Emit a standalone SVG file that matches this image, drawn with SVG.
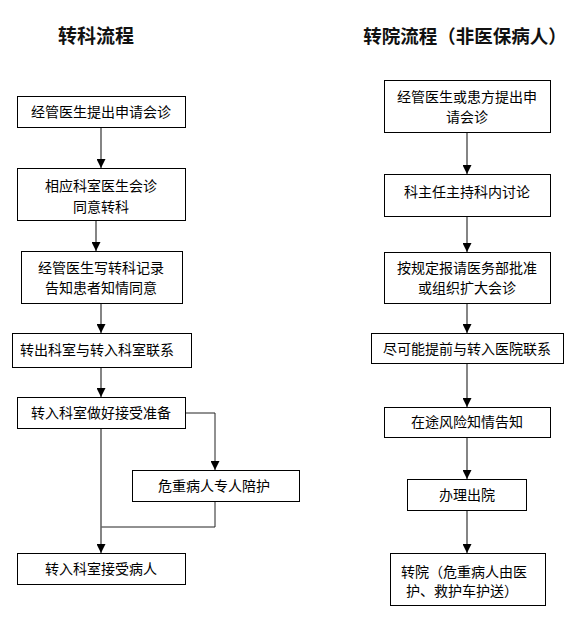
<svg xmlns="http://www.w3.org/2000/svg" width="576" height="622" viewBox="0 0 576 622">
<style>
.bg{fill:#fff}
.box{fill:#fff;stroke:#000;stroke-width:1}
.t{font-family:"Noto Sans CJK SC","Noto Sans",sans-serif;font-size:14px;fill:#000;text-anchor:middle}
.h{font-family:"Noto Sans CJK SC","Noto Sans",sans-serif;font-size:19px;font-weight:bold;fill:#111;text-anchor:middle}
.c{fill:none;stroke:#666;stroke-width:1.6}
.c2{fill:none;stroke:#222;stroke-width:1}
</style>
<defs>
<marker id="ah" markerUnits="userSpaceOnUse" markerWidth="9" markerHeight="9" refX="9" refY="4.5" orient="auto">
<path d="M0,0 L9,4.5 L0,9 z" fill="#000"/>
</marker>
</defs>
<rect class="bg" x="0" y="0" width="576" height="622"/>
<text class="h" x="96" y="43">转科流程</text>
<text class="h" x="465" y="43" style="font-size:18.5px">转院流程（非医保病人）</text>

<g id="connectors">
<line class="c" x1="101" y1="127" x2="101" y2="168" marker-end="url(#ah)"/>
<line class="c" x1="96" y1="220" x2="96" y2="251" marker-end="url(#ah)"/>
<line class="c" x1="101" y1="303" x2="101" y2="333" marker-end="url(#ah)"/>
<line class="c" x1="101" y1="367" x2="101" y2="397" marker-end="url(#ah)"/>
<polyline class="c2" points="186,413 215,413 215,470" marker-end="url(#ah)"/>
<polyline class="c2" points="215,501 215,527 101,527"/>
<line class="c" x1="101" y1="428" x2="101" y2="553" marker-end="url(#ah)"/>

<line class="c" x1="467" y1="132" x2="467" y2="174" marker-end="url(#ah)"/>
<line class="c" x1="467" y1="216" x2="467" y2="252" marker-end="url(#ah)"/>
<line class="c" x1="467" y1="303" x2="467" y2="333" marker-end="url(#ah)"/>
<line class="c" x1="467" y1="363" x2="467" y2="407" marker-end="url(#ah)"/>
<line class="c" x1="467" y1="437" x2="467" y2="479" marker-end="url(#ah)"/>
<line class="c" x1="467" y1="510" x2="467" y2="553" marker-end="url(#ah)"/>
</g>

<g id="L1"><rect class="box" x="17.5" y="96.5" width="168" height="31"/><text class="t" x="101" y="117">经管医生提出申请会诊</text></g>
<g id="L2"><rect class="box" x="17.5" y="168.5" width="168" height="52"/><text class="t" x="101" y="191">相应科室医生会诊</text><text class="t" x="101" y="212">同意转科</text></g>
<g id="L3"><rect class="box" x="21.5" y="251.5" width="161" height="52"/><text class="t" x="101" y="273">经管医生写转科记录</text><text class="t" x="101" y="293">告知患者知情同意</text></g>
<g id="L4"><rect class="box" x="12.5" y="333.5" width="179" height="34"/><text class="t" x="97" y="355">转出科室与转入科室联系</text></g>
<g id="L5"><rect class="box" x="17.5" y="397.5" width="168" height="31"/><text class="t" x="101" y="418">转入科室做好接受准备</text></g>
<g id="L6"><rect class="box" x="132.5" y="470.5" width="167" height="31"/><text class="t" x="214" y="491">危重病人专人陪护</text></g>
<g id="L7"><rect class="box" x="17.5" y="553.5" width="168" height="31"/><text class="t" x="101" y="574">转入科室接受病人</text></g>

<g id="R1"><rect class="box" x="384.5" y="80.5" width="166" height="52"/><text class="t" x="467" y="102">经管医生或患方提出申</text><text class="t" x="467" y="122">请会诊</text></g>
<g id="R2"><rect class="box" x="384.5" y="174.5" width="166" height="42"/><text class="t" x="467" y="197">科主任主持科内讨论</text></g>
<g id="R3"><rect class="box" x="384.5" y="252.5" width="166" height="51"/><text class="t" x="467" y="273">按规定报请医务部批准</text><text class="t" x="467" y="293">或组织扩大会诊</text></g>
<g id="R4"><rect class="box" x="371.5" y="333.5" width="192" height="30"/><text class="t" x="467" y="354">尽可能提前与转入医院联系</text></g>
<g id="R5"><rect class="box" x="384.5" y="407.5" width="166" height="30"/><text class="t" x="467" y="427">在途风险知情告知</text></g>
<g id="R6"><rect class="box" x="407.5" y="479.5" width="119" height="31"/><text class="t" x="467" y="500">办理出院</text></g>
<g id="R7"><rect class="box" x="390.5" y="553.5" width="155" height="52"/><text class="t" x="464" y="577">转院（危重病人由医</text><text class="t" x="462" y="596">护、救护车护送）</text></g>
</svg>
